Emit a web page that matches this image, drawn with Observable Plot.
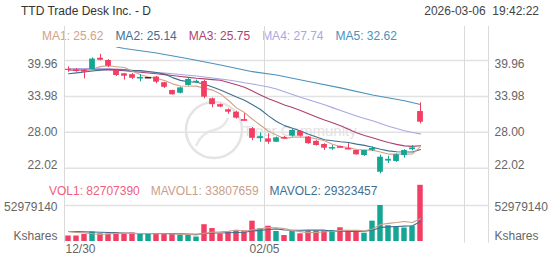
<!DOCTYPE html>
<html><head><meta charset="utf-8">
<script src="https://cdn.jsdelivr.net/npm/d3@7"></script>
<script src="https://cdn.jsdelivr.net/npm/@observablehq/plot@0.6"></script>
<style>
body{margin:0;background:#fff;}
#chart{position:relative;width:552px;height:265px;overflow:hidden;font-family:"Liberation Sans",Arial,sans-serif;background:#fff;}
.t{position:absolute;font-size:12px;white-space:pre;line-height:14px;}
.row{position:absolute;display:flex;font-size:12px;white-space:pre;line-height:14px;}
#price,#vol,#wm{position:absolute;left:0;}
</style></head><body><div id="chart"></div>
<script>
// ---- data ----
const title = "TTD Trade Desk Inc. - D";
const stamp = "2026-03-06  19:42:22";
const dates = ["12/30","12/31","01/02","01/05","01/06","01/07","01/08","01/09","01/12","01/13","01/14","01/15","01/16","01/20","01/21","01/22","01/23","01/26","01/27","01/28","01/29","01/30","02/02","02/03","02/04","02/05","02/06","02/09","02/10","02/11","02/12","02/13","02/17","02/18","02/19","02/20","02/23","02/24","02/25","02/26","02/27","03/02","03/03","03/04","03/05"];
const open  = [38.5,38.4,38.3,38.46,40.34,39.96,38.3,37.74,37.6,37.0,37.08,37.2,36.25,34.96,34.5,35.8,36.3,36.46,33.58,32.6,31.75,31.35,30.1,28.6,27.1,26.9,26.35,27.15,27.35,28.13,27.2,26.5,25.97,25.35,25.6,25.3,24.97,24.13,25.1,21.35,23.2,23.14,24.13,25.1,31.46];
const high  = [38.9,38.6,38.4,40.4,41.0,40.1,38.5,37.8,37.8,37.6,37.1,37.3,36.3,35.0,35.5,37.0,36.7,36.63,33.7,32.7,31.9,31.5,31.1,28.8,27.9,27.75,27.2,27.3,28.5,28.3,27.3,26.6,26.1,25.8,25.7,26.1,25.0,25.0,25.6,24.2,24.0,24.4,25.1,25.8,32.9];
const low   = [38.0,38.0,36.9,38.4,39.9,38.8,37.3,36.7,36.8,36.4,37.05,36.1,35.3,34.2,34.4,35.7,36.1,33.58,32.08,32.1,31.0,30.2,29.9,26.6,26.35,26.0,26.3,26.9,27.2,27.2,26.0,25.7,24.97,25.0,25.4,25.1,24.2,24.0,24.8,21.1,22.8,23.0,23.7,24.9,29.4];
const close = [38.3,38.2,38.0,40.2,40.0,39.0,37.46,37.34,37.0,37.15,37.08,36.35,35.5,34.25,35.4,36.8,36.5,33.85,32.6,32.2,31.35,30.35,29.95,27.0,27.25,26.35,27.08,27.0,28.3,27.35,26.1,25.8,25.35,25.45,25.45,25.2,24.25,24.97,25.3,23.85,23.5,24.25,24.97,25.4,29.68];
const volumeM = [8.1,8.1,10.3,14.0,11.3,11.0,13.2,11.8,12.5,10.7,10.7,11.3,11.3,11.3,9.3,9.3,6.6,24.7,19.1,11.0,14.0,15.5,15.5,29.9,18.7,22.5,14.7,8.8,15.2,11.3,15.2,15.2,15.2,16.2,20.2,15.2,15.2,12.2,29.9,53.0,23.2,21.0,19.8,22.3,82.70739];
const ma1 = [38.4,38.35,38.3,38.55,38.94,39.08,38.93,38.8,38.16,37.59,37.21,36.98,36.62,36.07,35.72,35.66,35.69,35.36,35.03,34.39,33.3,32.07,31.29,30.17,29.18,28.18,27.53,26.94,27.2,27.22,27.17,26.91,26.58,26.01,25.63,25.45,25.14,25.06,25.03,24.71,24.37,24.37,24.37,24.39,25.62];
const ma2 = [37.75,37.9,38.05,38.2,38.35,38.45,38.45,38.4,38.3,38.27,38.14,37.96,37.71,37.11,36.65,36.43,36.34,35.99,35.55,35.05,34.48,33.88,33.33,32.6,31.79,30.74,29.8,29.11,28.68,28.2,27.67,27.22,26.76,26.6,26.42,26.31,26.03,25.82,25.52,25.17,24.91,24.76,24.72,24.71,25.14];
const ma3 = [38.35,38.38,38.4,38.42,38.42,38.4,38.35,38.25,38.12,38.0,37.88,37.75,37.6,37.45,37.3,37.15,37.0,36.9,36.78,36.66,36.31,35.92,35.52,34.86,34.22,33.59,33.07,32.55,32.12,31.63,31.08,30.55,30.04,29.6,29.1,28.52,27.91,27.47,27.1,26.69,26.29,25.99,25.74,25.66,25.75];
const ma4 = [38.6,38.62,38.62,38.62,38.62,38.6,38.55,38.45,38.32,38.2,38.05,37.95,37.85,37.75,37.62,37.5,37.38,37.2,37.05,36.88,36.7,36.5,36.25,36.05,35.8,35.55,35.2,34.75,34.3,33.84,33.43,33.02,32.6,32.11,31.62,31.16,30.72,30.31,29.92,29.47,29.02,28.62,28.27,27.97,27.74];
const ma5Idx = [6,7,11,15,19,23,26,30,34,38,42,44];
const ma5Val = [42.2,41.95,41.2,40.25,39.2,38.1,37.55,36.46,35.4,34.2,33.25,32.62];
const mavol1 = [14.5,13.5,12.5,11.5,10.36,10.94,11.96,12.26,11.96,11.84,11.78,11.4,11.3,11.06,10.78,10.5,9.6,12.24,13.8,14.14,15.1,16.86,15.0,17.18,18.7,20.42,20.3,18.92,16.0,14.5,13.0,13.14,14.4,14.62,16.4,16.4,16.4,15.8,18.5,25.1,26.7,27.86,29.38,27.86,33.81];
const mavol2 = [14.8,14.5,14.2,13.9,13.6,13.3,12.9,12.5,12.0,11.5,11.4,11.68,11.78,11.51,11.31,11.14,10.48,11.77,12.43,12.46,12.79,13.21,13.63,15.49,16.43,17.75,18.56,16.97,16.58,16.61,16.73,16.7,16.67,15.3,15.45,14.72,14.77,15.11,16.58,20.75,21.55,22.13,22.59,23.2,29.32];
const maLegend = [["MA1","25.62"],["MA2","25.14"],["MA3","25.75"],["MA4","27.74"],["MA5","32.62"]];
const volLegend = [["VOL1","82707390"],["MAVOL1","33807659"],["MAVOL2","29323457"]];
const priceTicks = [22.02, 28.00, 33.98, 39.96];
const volTickM = 52.97914, volTickLabel = "52979140", volUnit = "Kshares";
const xTickLabels = ["12/30","02/05"];
const gridEvery = 25;

// ---- styles ----
const UP = "#14a693", DOWN = "#f23e63", FLAT = "#111";
const maColors = ["#d3a287","#3f6f8f","#b0406f","#a8a8e4","#4a91bd"];
const volColors = ["#f0607a","#c8a08c","#3f6f8f"];
const GRID = "#e2e2e2", VGRID = "#dadada", LABEL = "#666";
const FONT = "'Liberation Sans', Arial, sans-serif";

const n = dates.length;
const candles = d3.range(n).map(i => ({i, o: open[i], h: high[i], l: low[i], c: close[i], v: volumeM[i]}));
const colorOf = d => d.c > d.o ? UP : d.c < d.o ? DOWN : FLAT;
const volColorOf = d => d.c >= d.o ? UP : DOWN;
const dojis = candles.filter(d => Math.abs(d.o - d.c) < 0.2);
const xDomain = [-0.5, 52.5];
const vLines = [...d3.range(0, xDomain[1], gridEvery).map(k => k - 0.5), xDomain[1]];

const chart = document.getElementById("chart");
function addText(cls, txt, css) {
  const el = document.createElement("div"); el.className = cls; el.textContent = txt;
  Object.assign(el.style, css); chart.appendChild(el); return el;
}
addText("t", title, {left: "21px", top: "4px", color: "#333"});
addText("t", stamp, {right: "13px", top: "4px", color: "#444"});
const maRow = document.createElement("div"); maRow.className = "row";
Object.assign(maRow.style, {left: "42px", top: "29px", gap: "12px"});
maLegend.forEach(([k, v], j) => { const s = document.createElement("span"); s.textContent = `${k}: ${v}`; s.style.color = maColors[j]; maRow.appendChild(s); });
chart.appendChild(maRow);
const vRow = document.createElement("div"); vRow.className = "row";
Object.assign(vRow.style, {left: "49px", top: "184px", gap: "11px"});
volLegend.forEach(([k, v], j) => { const s = document.createElement("span"); s.textContent = `${k}: ${v}`; s.style.color = volColors[j]; vRow.appendChild(s); });

// watermark
const wm = document.createElementNS("http://www.w3.org/2000/svg", "svg");
wm.setAttribute("id", "wm"); wm.setAttribute("width", 552); wm.setAttribute("height", 265);
wm.style.top = "0px";
wm.innerHTML = `<circle cx="214" cy="130" r="28" fill="none" stroke="#e4e4e4" stroke-width="2.5"/>
<path d="M196 146 q6 -14 18 -16 q10 -2 14 -12" fill="none" stroke="#e8e8e8" stroke-width="2.5"/>
<text x="243" y="136" font-family="${FONT}" font-size="15" fill="#e2e2e2">Tiger Community</text>`;
chart.appendChild(wm);

function yLabelMarks(ticks, fmt, top, bottom) {
  const marks = [];
  const lo = d3.min(ticks), hi = d3.max(ticks);
  for (const t of ticks) {
    const dy = t === hi ? top : t === lo ? bottom : 0;
    for (const side of ["left", "right"]) {
      marks.push(Plot.text([t], {y: d => d, text: fmt, frameAnchor: side,
        textAnchor: side === "left" ? "end" : "start", dx: side === "left" ? -7 : 6, dy,
        fill: LABEL, fontSize: 12}));
    }
  }
  return marks;
}

// ---- price panel ----
const price = Plot.plot({
  width: 552, height: 183,
  marginLeft: 64, marginRight: 64, marginTop: 47, marginBottom: 3,
  x: {domain: xDomain, axis: null},
  y: {domain: [19.97, 42.126], axis: null},
  style: {background: "transparent", fontFamily: FONT, fontSize: "12px", overflow: "visible"},
  marks: [
    Plot.ruleY(priceTicks, {stroke: GRID, strokeWidth: 1.5}),
    Plot.ruleX(vLines, {x: d => d, y1: 45.62, y2: 19.47, stroke: VGRID, strokeWidth: 1}),
    Plot.line(ma5Idx.map((x, k) => [x, ma5Val[k]]), {stroke: maColors[4], strokeWidth: 1.1, clip: true}),
    Plot.lineY(ma4, {x: (d, i) => i, y: d => d, stroke: maColors[3], strokeWidth: 1.1, clip: true}),
    Plot.lineY(ma3, {x: (d, i) => i, y: d => d, stroke: maColors[2], strokeWidth: 1.1, clip: true}),
    Plot.lineY(ma2, {x: (d, i) => i, y: d => d, stroke: maColors[1], strokeWidth: 1.1, clip: true}),
    Plot.lineY(ma1, {x: (d, i) => i, y: d => d, stroke: maColors[0], strokeWidth: 1.1, clip: true}),
    Plot.ruleX(candles, {x: "i", y1: "l", y2: "h", stroke: colorOf, strokeWidth: 1}),
    Plot.rect(candles, {x1: d => d.i - 0.36, x2: d => d.i + 0.36, y1: d => Math.min(d.o, d.c), y2: d => Math.max(d.o, d.c), fill: colorOf}),
    Plot.ruleY(dojis, {y: d => (d.o + d.c) / 2, x1: d => d.i - 0.4, x2: d => d.i + 0.4, stroke: colorOf, strokeWidth: 1.3}),
    ...yLabelMarks(priceTicks, d => d.toFixed(2), 4, -3)
  ]
});
price.id = "price"; price.style.top = "0px";
chart.appendChild(price);

// ---- volume panel ----
const vol = Plot.plot({
  width: 552, height: 82,
  marginLeft: 64, marginRight: 64, marginTop: 0, marginBottom: 24,
  x: {domain: xDomain, axis: null},
  y: {domain: [0, 85.355], axis: null},
  style: {background: "transparent", fontFamily: FONT, fontSize: "12px", overflow: "visible"},
  marks: [
    Plot.ruleY([volTickM], {stroke: GRID, strokeWidth: 1.5}),
    Plot.ruleX(vLines, {x: d => d, y1: -2.5, y2: 85.355, stroke: VGRID, strokeWidth: 1}),
    Plot.rectY(candles, {x1: d => d.i - 0.34, x2: d => d.i + 0.34, y1: 0, y2: "v", fill: volColorOf}),
    Plot.lineY(mavol2, {x: (d, i) => i, y: d => d, stroke: volColors[2], strokeWidth: 1.1}),
    Plot.lineY(mavol1, {x: (d, i) => i, y: d => d, stroke: volColors[1], strokeWidth: 1.1}),
    ...["left", "right"].map(side => Plot.text([volTickM], {y: d => d, text: () => volTickLabel, frameAnchor: side,
        textAnchor: side === "left" ? "end" : "start", dx: side === "left" ? -7 : 6, dy: 2, fill: LABEL, fontSize: 12})),
    ...["left", "right"].map(side => Plot.text([0], {y: d => d, text: () => volUnit, frameAnchor: side,
        textAnchor: side === "left" ? "end" : "start", dx: side === "left" ? -7 : 6, dy: -5, fill: LABEL, fontSize: 12})),
    Plot.text(xTickLabels.slice(0, 1), {x: d => dates.indexOf(d) - 0.5, text: d => d, frameAnchor: "bottom", dy: 11, dx: 1, textAnchor: "start", fill: LABEL, fontSize: 12}),
    Plot.text(xTickLabels.slice(1), {x: d => dates.indexOf(d) - 0.5, text: d => d, frameAnchor: "bottom", dy: 11, textAnchor: "middle", fill: LABEL, fontSize: 12})
  ]
});
vol.id = "vol"; vol.style.top = "183px";
chart.appendChild(vol);
chart.appendChild(vRow);
</script></body></html>
